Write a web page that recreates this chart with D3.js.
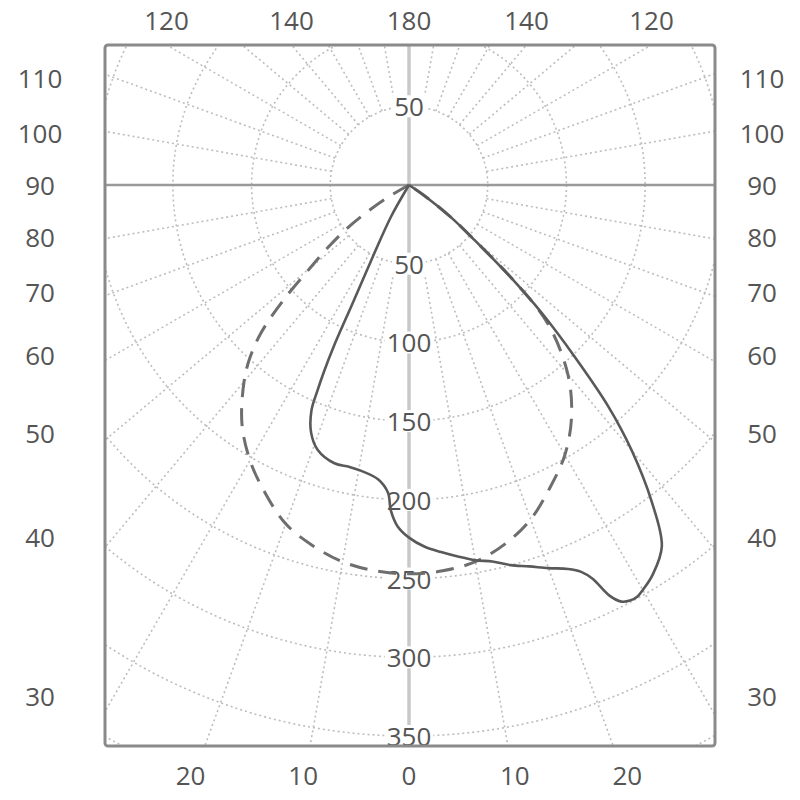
<!DOCTYPE html>
<html><head><meta charset="utf-8">
<script src="https://cdn.jsdelivr.net/npm/d3@7"></script>
<style>body{margin:0;background:#fff} svg{display:block}</style>
</head><body>
<svg id="c" width="800" height="800"></svg>
<script>
// ---- data (gamma in degrees, negative = left half-plane; values in cd) ----
const solidGamma = [-32, -29.6, -26.9, -25.5, -25, -24.5, -24, -23.4, -21.6, -19, -15, -12, -9.6, -6, -3.9, -3.2, -1.9, 0, 2.5, 5, 7.5, 10, 12.5, 15, 17.5, 20, 22.5, 24, 25, 26, 27, 28, 29, 30, 32, 35, 37.5, 40, 42, 44, 46, 47.5, 50, 52.5, 55, 57.5];
const solidCd    = [0, 23, 49, 83, 113, 130, 143, 156, 169, 178, 183, 183, 184, 188, 196, 207, 217, 224, 230, 234, 238, 242, 245, 250, 254, 259, 264, 269, 276, 290, 297, 299, 299, 297, 292, 280, 253, 220, 189, 151, 118, 92, 54, 33, 13, 0];
const dashedGamma = [-62.5, -60, -57.5, -55, -52.5, -50, -47.5, -45, -42.5, -40, -35, -30, -25, -20, -15, -10, -5, 0, 5, 10, 15, 20, 25, 30, 35, 40, 45, 47.5, 50, 52.5, 55, 57.5];
const dashedCd    = [0, 15, 30, 48, 64, 82, 108, 133, 150, 163, 185, 202, 216, 229, 237, 243, 246, 247, 246, 243, 236, 226, 212, 198, 180, 157, 125, 92, 54, 33, 13, 0];

const gridValues = [50, 100, 150, 200, 250, 300, 350, 400, 450];
const radialLabelsBelow = [50, 100, 150, 200, 250, 300, 350];
const radialLabelsAbove = [50];
const sideLabels = [30, 40, 50, 60, 70, 80, 90, 100, 110];
const topLabelGamma = [-120, -140, 180, 140, 120];
const topLabelText = ["120", "140", "180", "140", "120"];
const bottomLabelGamma = [-20, -10, 0, 10, 20];
const bottomLabelText = ["20", "10", "0", "10", "20"];
const rayStep = 10;

// ---- layout ----
const frame = {x0: 105, x1: 715, y0: 45, y1: 746};
const cx = 409, cy = 185;
const r = d3.scaleLinear().domain([0, 350]).range([0, 551]);
const rad = d => d * Math.PI / 180;
const font = "'Open Sans', 'DejaVu Sans', sans-serif";
const txtColor = "#555";

const svg = d3.select("#c");
svg.append("defs").append("clipPath").attr("id", "clip")
  .append("rect").attr("x", frame.x0).attr("y", frame.y0)
  .attr("width", frame.x1 - frame.x0).attr("height", frame.y1 - frame.y0);

const g = svg.append("g").attr("clip-path", "url(#clip)");
const polar = g.append("g").attr("transform", `translate(${cx},${cy})`);

// circles
polar.selectAll("circle.grid").data(gridValues).join("circle")
  .attr("class", "grid").attr("r", d => r(d))
  .attr("fill", "none").attr("stroke", "#bdbdbd").attr("stroke-width", 1.6)
  .attr("stroke-dasharray", "2,3");

// rays
const rays = d3.range(0, 360, rayStep).filter(a => a % 90 !== 0);
polar.selectAll("line.ray").data(rays).join("line")
  .attr("class", "ray")
  .attr("x1", a => r(50) * Math.sin(rad(a))).attr("y1", a => r(50) * Math.cos(rad(a)))
  .attr("x2", a => r(700) * Math.sin(rad(a))).attr("y2", a => r(700) * Math.cos(rad(a)))
  .attr("stroke", "#bdbdbd").attr("stroke-width", 1.6).attr("stroke-dasharray", "2,3");

// vertical axis (0-180)
g.append("line").attr("x1", cx).attr("x2", cx).attr("y1", frame.y0).attr("y2", frame.y1)
  .attr("stroke", "#c8c8c8").attr("stroke-width", 3.5);
// horizontal axis (90-90)
g.append("line").attr("x1", frame.x0).attr("x2", frame.x1).attr("y1", cy).attr("y2", cy)
  .attr("stroke", "#9a9a9a").attr("stroke-width", 2.5);

// radial value labels with white background
function radialLabel(v, sign) {
  const y = cy + sign * r(v);
  const t = svg.append("text").attr("x", cx).attr("y", y)
    .attr("text-anchor", "middle").attr("dominant-baseline", "central")
    .attr("font-family", font).attr("font-size", 26).attr("fill", txtColor)
    .text(v);
  const bb = t.node().getBBox();
  svg.insert("rect", "text").attr("x", bb.x - 2).attr("y", y - 11).attr("width", bb.width + 4).attr("height", 22)
    .attr("fill", "#fff");
}
radialLabelsBelow.forEach(v => radialLabel(v, 1));
radialLabelsAbove.forEach(v => radialLabel(v, -1));

// curves
const line = d3.lineRadial()
  .angle(d => Math.PI - rad(d[0]))
  .radius(d => r(d[1]))
  .curve(d3.curveCatmullRom.alpha(0.5));

const curves = svg.append("g").attr("transform", `translate(${cx},${cy})`);
curves.append("path").datum(d3.zip(dashedGamma, dashedCd))
  .attr("d", line).attr("fill", "none").attr("stroke", "#6e6e6e")
  .attr("stroke-width", 3).attr("stroke-dasharray", "18,11");
curves.append("path").datum(d3.zip(solidGamma, solidCd))
  .attr("d", line).attr("fill", "none").attr("stroke", "#595959")
  .attr("stroke-width", 2.6).attr("stroke-linejoin", "round");

// frame
svg.append("rect").attr("x", frame.x0).attr("y", frame.y0)
  .attr("width", frame.x1 - frame.x0).attr("height", frame.y1 - frame.y0)
  .attr("rx", 3).attr("fill", "none").attr("stroke", "#8a8a8a").attr("stroke-width", 3);

// side angle labels
const sideD = 295;
const sideY = a => a === 90 ? cy : cy + sideD * Math.cos(rad(a)) / Math.sin(rad(a));
[40, 762].forEach(x => {
  svg.append("g").selectAll("text").data(sideLabels).join("text")
    .attr("x", x).attr("y", a => sideY(a))
    .attr("text-anchor", "middle").attr("dominant-baseline", "central")
    .attr("font-family", font).attr("font-size", 26).attr("fill", txtColor)
    .text(a => a);
});

// top labels
const topD = cy - frame.y0;
svg.append("g").selectAll("text").data(d3.zip(topLabelGamma, topLabelText)).join("text")
  .attr("x", d => d[0] === 180 ? cx : cx + Math.sign(d[0]) * topD * Math.tan(rad(180 - Math.abs(d[0]))))
  .attr("y", 20)
  .attr("text-anchor", "middle").attr("dominant-baseline", "central")
  .attr("font-family", font).attr("font-size", 26).attr("fill", txtColor)
  .text(d => d[1]);

// bottom labels
const botD = 600;
svg.append("g").selectAll("text").data(d3.zip(bottomLabelGamma, bottomLabelText)).join("text")
  .attr("x", d => cx + botD * Math.tan(rad(d[0])))
  .attr("y", 775)
  .attr("text-anchor", "middle").attr("dominant-baseline", "central")
  .attr("font-family", font).attr("font-size", 26).attr("fill", txtColor)
  .text(d => d[1]);
</script>
</body></html>
